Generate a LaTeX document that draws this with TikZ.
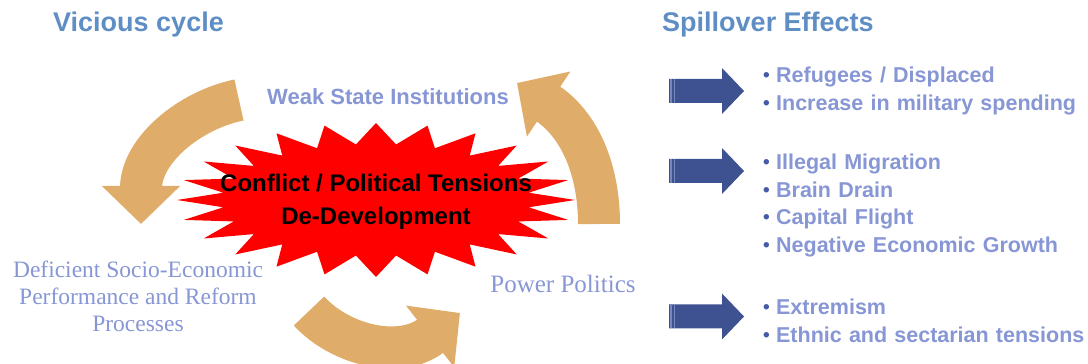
\documentclass[tikz,border=0pt]{standalone}
\usepackage{fontspec}
\setmainfont{Liberation Serif}
\setsansfont{Liberation Sans}
\usetikzlibrary{arrows.meta,positioning}

\definecolor{cycletan}{RGB}{224,172,105}
\definecolor{titleblue}{RGB}{95,142,196}
\definecolor{stageblue}{RGB}{135,150,212}
\definecolor{spillblue}{RGB}{62,82,146}
\definecolor{stripeblue}{RGB}{120,135,190}
\definecolor{dotblue}{RGB}{70,90,165}
\definecolor{starred}{RGB}{255,0,0}

\begin{document}
\begin{tikzpicture}[x=1pt,y=1pt,node distance=27.5pt,
    title/.style={text=titleblue,font=\sffamily\bfseries\fontsize{27}{27}\selectfont,inner sep=0pt},
    stage/.style={text=stageblue,inner sep=0pt,align=center},
    cyclearrow/.style={draw=cycletan,line width=42pt,-{Triangle[length=38pt,width=76pt]}},
    effect/.style={text=stageblue,font=\sffamily\bfseries\fontsize{21.5}{21.5}\selectfont,
        text width=340pt,align=left,text height=16pt,text depth=5pt,inner sep=0pt,
        execute at begin node={\raisebox{1pt}{\textcolor{dotblue}{\fontsize{19}{19}\selectfont\textbullet}}\hspace{6.5pt}}}]
    \useasboundingbox (0,0) rectangle (1088,364);

    % titles
    \node[title,anchor=base west] (vicious) at (53,332) {Vicious cycle};
    \node[title,anchor=base west] (spill) at (662,332) {Spillover Effects};

    % the cycle
    \draw[cyclearrow] (239,264) .. controls (190,254) and (141,214) .. (141,140);
    \draw[cyclearrow] (309,53) .. controls (340,19) and (400,4) .. (460,51);
    \draw[cyclearrow] (599,140) .. controls (599,194) and (580,239) .. (517,281);

    \fill[starred] plot[domain=0:352.5,samples=48]
        ({376+(199-45*mod(round(\x/7.5),2))*cos(\x)},{164+(77-21*mod(round(\x/7.5),2))*sin(\x)}) -- cycle;
    \node[font=\sffamily\bfseries\fontsize{24}{33}\selectfont,align=center,inner sep=0pt]
        (conflict) at (376,162) {Conflict / Political Tensions\\De-Development};

    \node[stage,font=\sffamily\bfseries\fontsize{22}{22}\selectfont,anchor=base] (weak) at (388,259) {Weak State Institutions};
    \node[stage,font=\fontsize{25}{25}\selectfont,anchor=base] (power) at (563,71) {Power Politics};
    \node[stage,font=\fontsize{23.5}{27}\selectfont] (deficient) at (138,68)
        {Deficient Socio-Economic\\Performance and Reform\\Processes};

    % spillover arrows
    \foreach \y in {273,193,47.5} {
        \fill[spillblue] (669,\y+12) -- (722,\y+12) -- (722,\y+23) -- (744,\y)
            -- (722,\y-23) -- (722,\y-12) -- (669,\y-12) -- cycle;
        \draw[stripeblue,line width=1.2pt] (671,\y+12) -- (671,\y-12)
            (674.5,\y+12) -- (674.5,\y-12);
    }

    % effects
    \node[effect] (refugees) at (933,286.5) {Refugees / Displaced};
    \node[effect,below of=refugees] (military) {Increase in military spending};

    \node[effect] (migration) at (933,199.5) {Illegal Migration};
    \node[effect,below of=migration] (brain) {Brain Drain};
    \node[effect,below of=brain] (capital) {Capital Flight};
    \node[effect,below of=capital] (growth) {Negative Economic Growth};

    \node[effect] (extremism) at (933,54.5) {Extremism};
    \node[effect,below of=extremism] (ethnic) {Ethnic and sectarian tensions};
\end{tikzpicture}
\end{document}
